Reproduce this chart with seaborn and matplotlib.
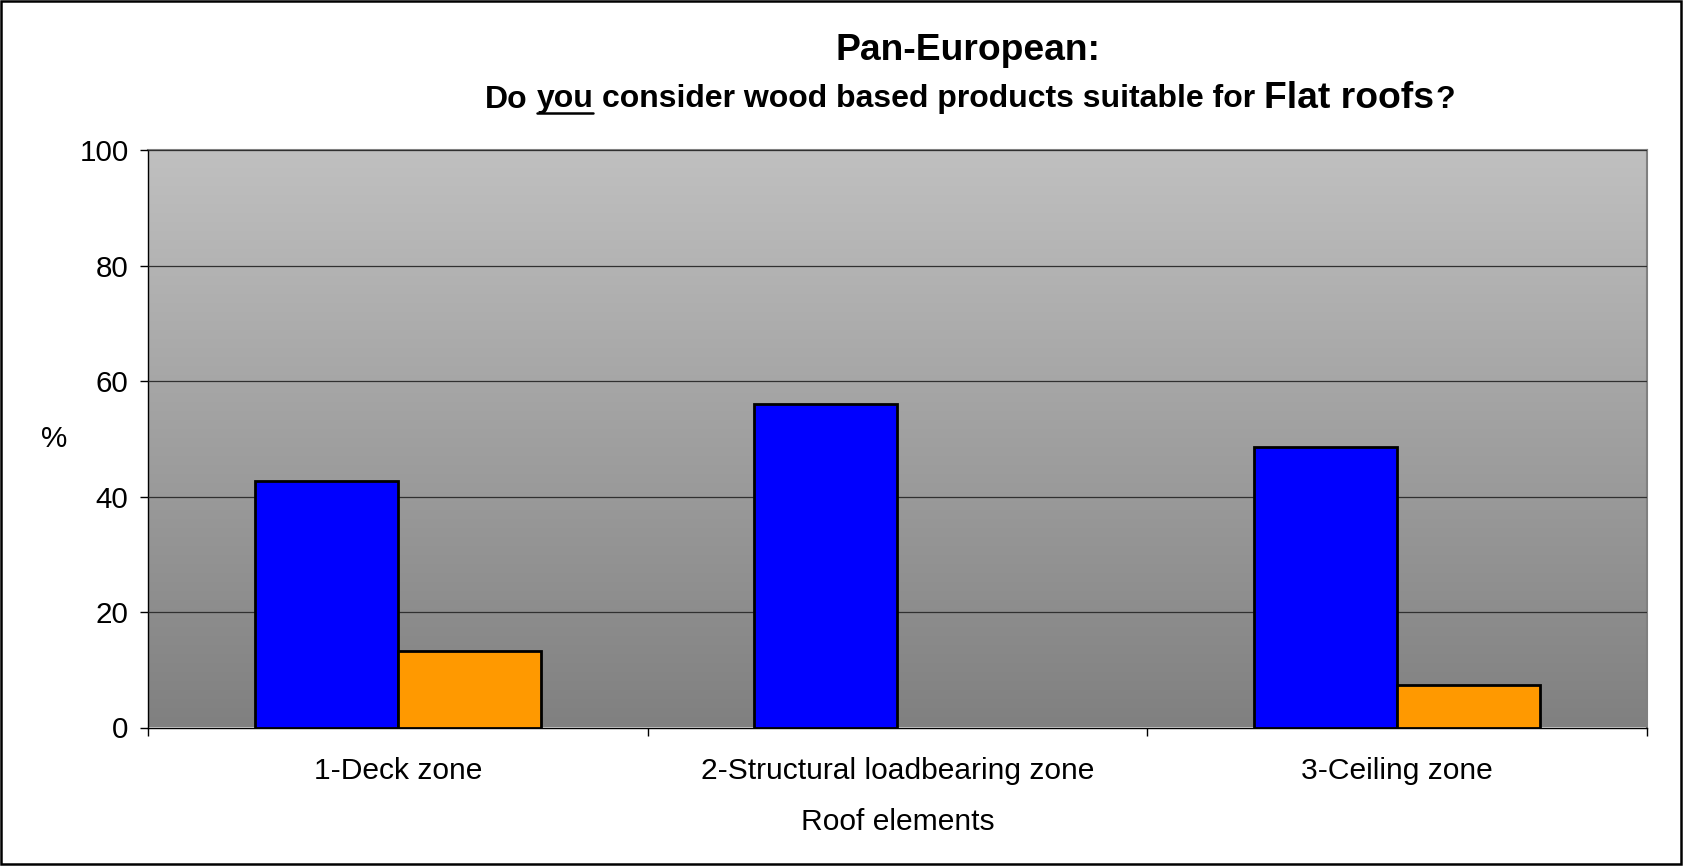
import numpy as np
import pandas as pd
import matplotlib
matplotlib.use("Agg")
import matplotlib.pyplot as plt
import seaborn as sns
from matplotlib.colors import LinearSegmentedColormap
from matplotlib.lines import Line2D
from matplotlib.patches import Rectangle

# ---------------- data ----------------
categories = ["1-Deck zone", "2-Structural loadbearing zone", "3-Ceiling zone"]
series_names = ["Yes", "No"]
yes_values = [42.7, 56.0, 48.5]
no_values = [13.3, np.nan, 7.3]
y_ticks = [0, 20, 40, 60, 80, 100]
series_colors = ["#0000FF", "#FF9900"]

df = pd.DataFrame({
    "Roof elements": categories * 2,
    "Response": [series_names[0]] * 3 + [series_names[1]] * 3,
    "Percent": yes_values + no_values,
})

sns.set_theme(style="white")
plt.rcParams["font.family"] = ["Liberation Sans", "DejaVu Sans"]

W, H = 1686, 866
fig = plt.figure(figsize=(W / 100, H / 100), dpi=100)
fig.patch.set_facecolor("white")
ax = fig.add_axes([148 / W, (H - 727.5) / H, (1646.7 - 148) / W, (727.5 - 150) / H])

sns.barplot(data=df, x="Roof elements", y="Percent", hue="Response",
            hue_order=series_names, order=categories, palette=series_colors,
            width=0.572, edgecolor="black", linewidth=2, errorbar=None,
            legend=False, saturation=1, ax=ax, zorder=3)

# gradient plot background
cmap = LinearSegmentedColormap.from_list("bg", ["#c0c0c0", "#808080"])
ax.imshow(np.linspace(0, 1, 256).reshape(-1, 1), cmap=cmap, aspect="auto",
          extent=[-0.5, 2.5, 0, 100], zorder=0, interpolation="bicubic")
ax.set_xlim(-0.5, 2.5)
ax.set_ylim(0, 100)

# grid
ax.set_yticks(y_ticks)
ax.yaxis.grid(True, color="#303030", linewidth=0.9)
ax.xaxis.grid(False)
ax.set_axisbelow(False)
for ln in ax.get_ygridlines():
    ln.set_zorder(1)

# spines
for s in ["left", "bottom"]:
    ax.spines[s].set_color("black")
    ax.spines[s].set_linewidth(1.0)
for s in ["top", "right"]:
    ax.spines[s].set_color("#808080")
    ax.spines[s].set_linewidth(1.5)

# ticks
ax.set_xticks(range(len(categories)))
ax.set_xticklabels(categories)
ax.set_xticks([-0.5, 0.5, 1.5, 2.5], minor=True)
ax.tick_params(axis="x", which="major", length=0, pad=21, labelsize=21.6, colors="black")
ax.tick_params(axis="x", which="minor", length=6, width=1, direction="out",
               color="black", bottom=True)
ax.tick_params(axis="y", which="major", length=6, width=1, direction="out",
               left=True, pad=8, labelsize=21.3, colors="black")

ax.set_xlabel("Roof elements", fontsize=21.6, labelpad=17, color="black")
ax.set_ylabel("%", fontsize=21.3, rotation=0, color="black", ha="center", va="center")
ax.yaxis.set_label_coords((54 - 148) / (1646.7 - 148), 0.5)

# ---------------- titles ----------------
fig.text(968 / W, 1 - 60 / H, "Pan-European:", fontsize=26.8, fontweight="bold",
         ha="center", va="baseline", color="black")

fig.canvas.draw()
renderer = fig.canvas.get_renderer()

def text_width(s, size):
    t = fig.text(0, 0, s, fontsize=size, fontweight="bold")
    w = t.get_window_extent(renderer).width
    t.remove()
    return w

small, big = 23, 26.8
space_small = text_width("x x", small) - text_width("xx", small)
parts = [("Do", small, True), ("you", small, True), ("consider wood based products suitable for", small, True),
         ("Flat roofs", big, False), ("?", small, False)]
base_y = 1 - 107.5 / H
x = 485.0
you_extent = None
for s, size, add_space in parts:
    t = fig.text(x / W, base_y, s, fontsize=size, fontweight="bold", ha="left",
                 va="baseline", color="black")
    bb = t.get_window_extent(renderer)
    if s == "you":
        you_extent = (bb.x0, bb.x1)
    x = bb.x1 + (space_small if add_space else 1.5)

ux0, ux1 = you_extent
fig.add_artist(Line2D([ux0 / W, ux1 / W], [1 - 112.5 / H, 1 - 112.5 / H],
                      transform=fig.transFigure, color="black", linewidth=1.8))

# figure border
fig.add_artist(Rectangle((0.0008, 0.0025), 0.9965, 0.9962, transform=fig.transFigure,
                         fill=False, edgecolor="black", linewidth=1.8))

fig.savefig("out.png", dpi=100, facecolor="white")
